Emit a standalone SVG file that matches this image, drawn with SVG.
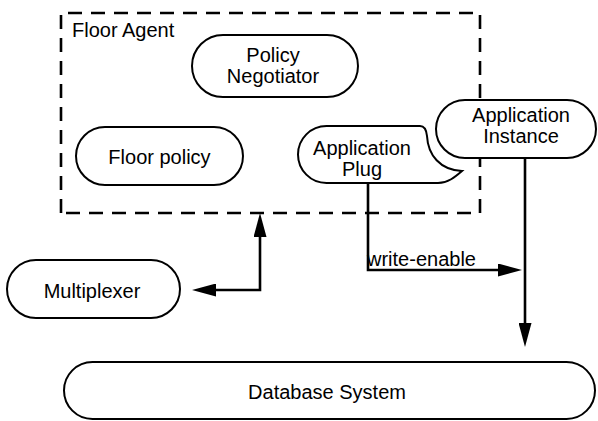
<svg xmlns="http://www.w3.org/2000/svg" width="598" height="421" viewBox="0 0 598 421">
<style>
.node{fill:#fff;stroke:#000;stroke-width:2}
.t{font-family:"Liberation Sans",Arial,Helvetica,sans-serif;font-size:20px;fill:#000}
.c{text-anchor:middle}
.conn{fill:none;stroke:#000;stroke-width:2.6}
.box{fill:none;stroke:#000;stroke-width:2.6;stroke-dasharray:14 9}
</style>
<defs>
<marker id="ah" markerUnits="userSpaceOnUse" markerWidth="24" markerHeight="13" refX="14" refY="6.5" orient="auto-start-reverse" viewBox="0 0 24 13">
<path d="M0,0 L24,6.5 L0,13 Z" fill="#000"/>
</marker>
</defs>
<rect width="598" height="421" fill="#fff"/>
<g id="floor-agent">
<path class="box" d="M61,213 V13 H480 V213 Z"/>
<text class="t" x="72" y="37">Floor Agent</text>
</g>
<g id="connectors">
<path class="conn" d="M202,290 H260 V223" marker-start="url(#ah)" marker-end="url(#ah)"/>
<path class="conn" d="M368,183 V270 H512" marker-end="url(#ah)"/>
<text class="t" x="367" y="266">write-enable</text>
<path class="conn" d="M525,158 V337" marker-end="url(#ah)"/>
</g>
<g id="policy-negotiator">
<rect class="node" x="192" y="35" width="166" height="62" rx="31"/>
<text class="t c" x="273" y="62">Policy</text>
<text class="t c" x="273" y="83">Negotiator</text>
</g>
<g id="floor-policy">
<rect class="node" x="76" y="127" width="167" height="58" rx="29"/>
<text class="t c" x="159.5" y="164">Floor policy</text>
</g>
<g id="application-plug">
<path class="node" d="M326.5,126 H420 Q426,126 427,136 C428,155 440,170 462,171 C455,177 448,183 438,183 H326.5 A28.5,28.5 0 0 1 326.5,126 Z"/>
<text class="t c" x="362" y="155">Application</text>
<text class="t c" x="362" y="176">Plug</text>
</g>
<g id="application-instance">
<rect class="node" x="436" y="100" width="160" height="58" rx="29"/>
<text class="t c" x="521" y="122">Application</text>
<text class="t c" x="521" y="143">Instance</text>
</g>
<g id="multiplexer">
<rect class="node" x="7" y="260" width="173" height="58" rx="29"/>
<text class="t c" x="92" y="298">Multiplexer</text>
</g>
<g id="database-system">
<rect class="node" x="64" y="362" width="531" height="57" rx="28.5"/>
<text class="t c" x="327" y="399">Database System</text>
</g>
</svg>
